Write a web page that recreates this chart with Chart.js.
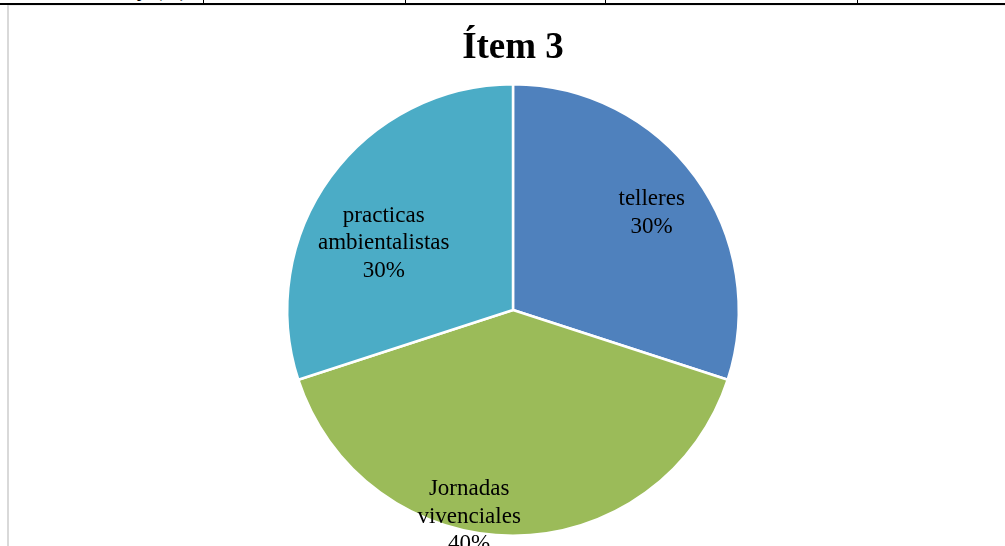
<!DOCTYPE html>
<html>
<head>
<meta charset="utf-8">
<script src="https://cdn.jsdelivr.net/npm/chart.js@4.4.0/dist/chart.umd.min.js"></script>
<style>
  html, body { margin:0; padding:0; background:#fff; overflow:hidden; }
  #wrap { position:relative; width:1005px; height:546px; }
  #chart { position:absolute; left:0; top:0; }
  .rule { position:absolute; background:#000; }
  .grey { position:absolute; background:#d9d9d9; }
  #cell { position:absolute; left:0; top:-19px; width:186px; text-align:right;
          font:bold 18px "Liberation Serif", serif; color:#000; white-space:nowrap; }
</style>
</head>
<body>
<div id="wrap">
  <div id="cell">Porcentaje (%)</div>
  <div class="rule" style="left:0;top:3px;width:1005px;height:2px;"></div>
  <div class="rule" style="left:203px;top:0;width:1px;height:4px;"></div>
  <div class="rule" style="left:405px;top:0;width:1px;height:4px;"></div>
  <div class="rule" style="left:605px;top:0;width:1px;height:4px;"></div>
  <div class="rule" style="left:857px;top:0;width:1px;height:4px;"></div>
  <div class="grey" style="left:7px;top:5px;width:2px;height:541px;"></div>
  <div class="grey" style="left:9px;top:5px;width:996px;height:1px;background:#eee;"></div>
  <canvas id="chart" width="1005" height="546"></canvas>
</div>
<script>
// chart data
const categories = ['telleres', 'Jornadas\nvivenciales', 'practicas\nambientalistas'];
const shares     = [30, 40, 30];
const colors     = ['#4F81BD', '#9BBB59', '#4BACC6'];
// label placement inside each slice: fraction of radius, angle shift in degrees
const labelRadius = [0.75, 0.935, 0.645];
const labelShift  = [1, 12, -8.6];

/** Draw "name\nNN%" labels inside the slices, Excel-style. */
const sliceLabels = {
  id: 'sliceLabels',
  afterDatasetsDraw(chart) {
    const ctx = chart.ctx;
    const meta = chart.getDatasetMeta(0);
    ctx.save();
    ctx.font = '23px "Liberation Serif", "Times New Roman", serif';
    ctx.fillStyle = '#000';
    ctx.textAlign = 'center';
    ctx.textBaseline = 'middle';
    meta.data.forEach((arc, i) => {
      const p = arc.getProps(['x','y','startAngle','endAngle','outerRadius'], true);
      const mid = (p.startAngle + p.endAngle) / 2 + labelShift[i] * Math.PI / 180;
      const r = p.outerRadius * labelRadius[i];
      const cx = p.x + Math.cos(mid) * r;
      const cy = p.y + Math.sin(mid) * r;
      const lines = categories[i].split('\n').concat([shares[i] + '%']);
      const lh = 27.5;
      lines.forEach((t, k) => {
        ctx.fillText(t, cx, cy + (k - (lines.length - 1) / 2) * lh);
      });
    });
    ctx.restore();
  }
};

new Chart(document.getElementById('chart'), {
  type: 'pie',
  data: {
    labels: categories,
    datasets: [{
      data: shares,
      backgroundColor: colors,
      borderColor: '#fff',
      borderWidth: 2.5,
      hoverOffset: 0,
    }],
  },
  options: {
    responsive: false,
    animation: false,
    events: [],
    layout: { padding: { left: 286, right: 265, top: 10, bottom: 9 } },
    plugins: {
      legend: { display: false },
      tooltip: { enabled: false },
      title: {
        display: true,
        text: 'Ítem 3',
        color: '#000',
        font: { family: '"Liberation Serif", "Times New Roman", serif', size: 37, weight: 'bold' },
        padding: { top: 16, bottom: 12.6 },
      },
    },
  },
  plugins: [sliceLabels],
});
</script>
</body>
</html>
